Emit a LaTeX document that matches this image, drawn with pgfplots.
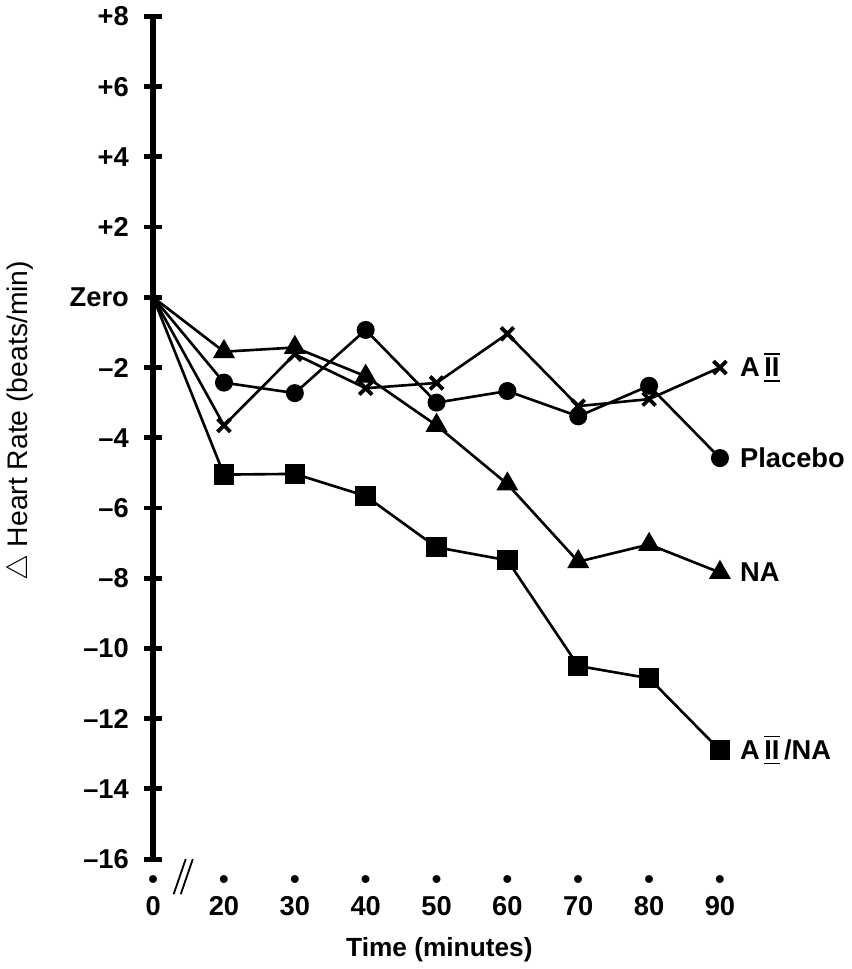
\documentclass[border=0pt]{standalone}
\usepackage{amsmath}
\usepackage{pgfplots}
\pgfplotsset{compat=1.18}
\usepackage{fontspec}
\setmainfont{Liberation Sans}

% roman numeral II with bars above and below
\newcommand{\AII}{A\,$\overline{\underline{\text{II}}}$}

\begin{document}
\begin{tikzpicture}
\begin{axis}[
scale only axis,
width=280.5pt,
height=417pt,
xmin=10, xmax=90,
ymin=-16, ymax=8,
clip=false,
axis y line=left,
axis x line=bottom,
y axis line style={line width=2.6pt,-},
x axis line style={draw=none,-},
ytick={-16,-14,...,8},
yticklabels={{--16},{--14},{--12},{--10},{--8},{--6},{--4},{--2},Zero,+2,+4,+6,+8},
ytick style={line width=2.4pt,black},
major tick length=9pt,
yticklabel style={font=\fontsize{13.5}{15}\selectfont\bfseries, xshift=-4pt},
% broken axis: time 0 is drawn one step left of 20 min
xtick={10,20,...,90},
xticklabels={{\textbullet\\[-1.5pt]0},{\textbullet\\[-1.5pt]20},{\textbullet\\[-1.5pt]30},{\textbullet\\[-1.5pt]40},{\textbullet\\[-1.5pt]50},{\textbullet\\[-1.5pt]60},{\textbullet\\[-1.5pt]70},{\textbullet\\[-1.5pt]80},{\textbullet\\[-1.5pt]90}},
xtick style={draw=none},
xticklabel style={align=center, font=\fontsize{13.5}{15}\selectfont\bfseries, yshift=0pt},
xlabel={\bfseries Time (minutes)},
xlabel style={at={(axis description cs:0.505,0)}, anchor=center, yshift=-45pt, font=\fontsize{13}{15}\selectfont},
ylabel={$\triangle$ Heart Rate (beats/min)},
ylabel style={at={(axis description cs:-0.235,0.52)}, anchor=center, font=\fontsize{14}{16}\selectfont},
every axis plot/.append style={black, line width=1.3pt, mark indices={2,...,9}},
]
% A II
\addplot[mark=x, mark size=4.5pt, mark options={line width=1.9pt}] coordinates {
(10,0) (20,-3.65) (30,-1.62) (40,-2.59) (50,-2.44) (60,-1.04) (70,-3.1) (80,-2.9) (90,-2.0)
} node[pos=1, anchor=west, xshift=6pt, font=\fontsize{13.5}{15}\selectfont\bfseries] {\AII};
% Placebo
\addplot[mark=*, mark size=3.8pt] coordinates {
(10,0) (20,-2.43) (30,-2.73) (40,-0.93) (50,-3.0) (60,-2.67) (70,-3.39) (80,-2.52) (90,-4.58)
} node[pos=1, anchor=west, xshift=6pt, font=\fontsize{13.5}{15}\selectfont\bfseries] {Placebo};
% NA
\addplot[mark=triangle*, mark size=5pt] coordinates {
(10,0) (20,-1.55) (30,-1.43) (40,-2.25) (50,-3.65) (60,-5.32) (70,-7.53) (80,-7.04) (90,-7.84)
} node[pos=1, anchor=west, xshift=6pt, font=\fontsize{13.5}{15}\selectfont\bfseries] {NA};
% A II / NA
\addplot[mark=square*, mark size=4.4pt] coordinates {
(10,0) (20,-5.05) (30,-5.03) (40,-5.66) (50,-7.12) (60,-7.49) (70,-10.5) (80,-10.85) (90,-12.9)
} node[pos=1, anchor=west, xshift=6pt, font=\fontsize{13.5}{15}\selectfont\bfseries] {\AII\,/NA};
% axis break mark
\draw[line width=0.9pt] (axis cs:12.9,-17.0) -- (axis cs:14.6,-16.0);
\draw[line width=0.9pt] (axis cs:13.9,-17.0) -- (axis cs:15.6,-16.0);
\end{axis}
\end{tikzpicture}
\end{document}
